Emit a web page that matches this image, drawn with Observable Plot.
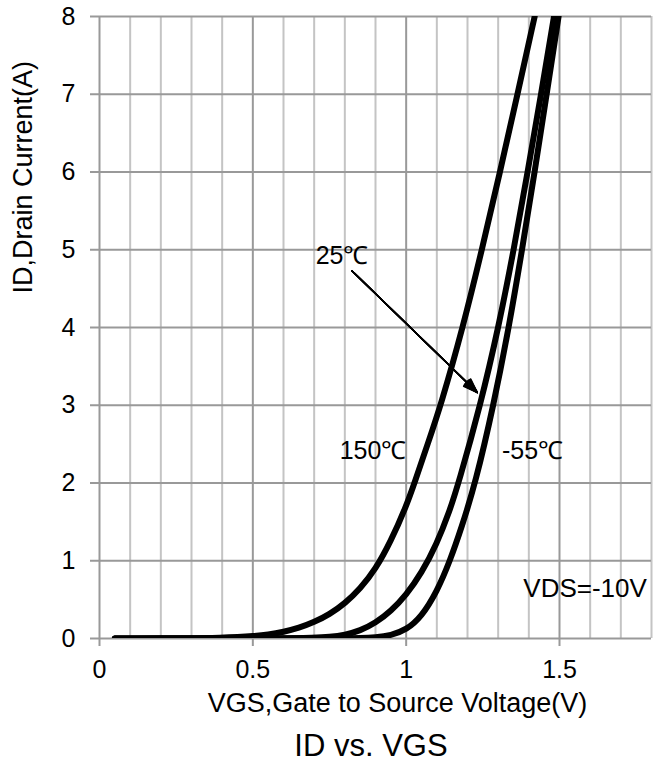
<!DOCTYPE html>
<html><head><meta charset="utf-8">
<script src="https://cdn.jsdelivr.net/npm/d3@7"></script>
<script src="https://cdn.jsdelivr.net/npm/@observablehq/plot@0.6"></script>
<style>
body{margin:0;background:#fff;font-family:"Liberation Sans",Arial,sans-serif}
#title{width:660px;box-sizing:border-box;padding-left:82px;text-align:center;font-size:31px;line-height:31px;margin-top:20px;color:#000}
</style></head><body><div id="chart"></div><div id="title">ID vs. VGS</div>
<script>
// Tick labels / grid
const xTicks = [0, 0.5, 1, 1.5];
const xMinorGrid = [0.1,0.2,0.3,0.4,0.6,0.7,0.8,0.9,1.1,1.2,1.3,1.4,1.6,1.7,1.8];
const yTicks = [0,1,2,3,4,5,6,7,8];

// Series: ID (A) vs VGS (V)
const vgs150 = [0.05,0.3,0.4,0.45,0.5,0.55,0.6,0.65,0.7,0.75,0.8,0.85,0.9,0.95,1.0,1.027,1.07,1.113,1.185,1.247,1.306,1.363,1.419];
const id150  = [0,0.003,0.01,0.018,0.03,0.05,0.085,0.135,0.21,0.31,0.45,0.64,0.89,1.25,1.7,2.0,2.5,3.0,4.0,5.0,6.0,7.0,8.0];
const vgs25  = [0.05,0.6,0.7,0.75,0.8,0.85,0.9,0.95,1.0,1.05,1.1,1.14,1.171,1.242,1.301,1.351,1.396,1.44,1.482];
const id25   = [0,0.003,0.01,0.02,0.045,0.1,0.2,0.35,0.56,0.84,1.22,1.62,2.0,3.0,4.0,5.0,6.0,7.0,8.0];
const vgs55  = [0.05,0.8,0.85,0.9,0.95,1.0,1.05,1.1,1.143,1.18,1.226,1.285,1.335,1.378,1.419,1.458,1.497];
const id55   = [0,0.002,0.005,0.015,0.04,0.11,0.28,0.6,1.0,1.42,2.0,3.0,4.0,5.0,6.0,7.0,8.0];

// Annotations
const labelText = ["25\u2103", "150\u2103", "-55\u2103"];
const labelX = [0.791, 0.892, 1.412];
const labelY = [4.92, 2.41, 2.41];
const arrowFrom = [0.823, 4.73];
const arrowTo = [1.232, 3.164];
const condText = "VDS=-10V";
const condX = 1.785, condY = 0.646;

const series = [
  ...vgs150.map((v,i)=>({s:"150", x:v, y:id150[i]})),
  ...vgs25.map((v,i)=>({s:"25", x:v, y:id25[i]})),
  ...vgs55.map((v,i)=>({s:"-55", x:v, y:id55[i]}))
];
const labels = labelText.map((t,i)=>({t, x:labelX[i], y:labelY[i]}));
const arrowData = [{x1:arrowFrom[0], y1:arrowFrom[1], x2:arrowTo[0], y2:arrowTo[1]}];
const headAngles = [0,5,10,15,20,25,30,35,40];

const font = '"Liberation Sans", Arial, sans-serif';
const plot = Plot.plot({
  width: 660, height: 710,
  marginTop: 16, marginLeft: 99, marginRight: 9, marginBottom: 72,
  x: {domain: [0, 1.8]},
  y: {domain: [0, 8]},
  style: {fontFamily: font, background: "white", color: "black", overflow: "visible"},
  marks: [
    Plot.ruleX(xMinorGrid, {stroke: "#c4c4c4", strokeWidth: 2}),
    Plot.ruleX(xTicks, {stroke: "#999", strokeWidth: 2}),
    Plot.ruleY(yTicks, {stroke: "#999", strokeWidth: 2}),
    Plot.axisX({ticks: xTicks, tickSize: 8, tickPadding: 14, fontSize: 25, stroke: "#999", strokeWidth: 2, fill: "black", label: null, tickFormat: d => String(d)}),
    Plot.axisY({ticks: yTicks, tickSize: 9, tickPadding: 15, fontSize: 25, stroke: "#999", strokeWidth: 2, fill: "black", label: null, tickFormat: d => String(d)}),
    Plot.text(["VGS,Gate to Source Voltage(V)"], {frameAnchor: "bottom", dx: 22, dy: 65, lineAnchor: "middle", fontSize: 27, fill: "black"}),
    Plot.text(["ID,Drain Current(A)"], {frameAnchor: "left", dx: -76, dy: -34, rotate: -90, lineAnchor: "middle", fontSize: 27, fill: "black"}),
    Plot.line(series, {x: "x", y: "y", z: "s", stroke: "black", strokeWidth: 6, strokeLinecap: "round", strokeLinejoin: "round", curve: "basis", clip: true}),
    ...headAngles.map(a => Plot.arrow(arrowData, {x1: "x1", y1: "y1", x2: "x2", y2: "y2", headLength: 15, headAngle: a, stroke: "black", strokeWidth: 1.5})),
    Plot.text(labels, {x: "x", y: "y", text: "t", fontSize: 25, fill: "black", lineAnchor: "middle"}),
    Plot.text([condText], {x: () => condX, y: () => condY, textAnchor: "end", lineAnchor: "middle", fontSize: 26, fill: "black"})
  ]
});
document.getElementById("chart").appendChild(plot);
</script>
</body></html>
